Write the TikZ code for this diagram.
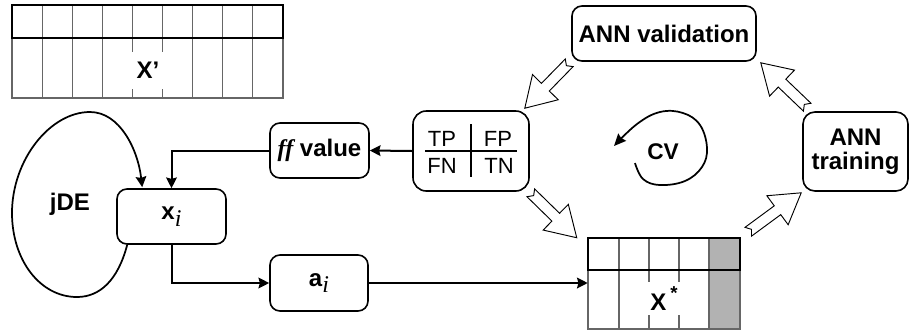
\documentclass[tikz,border=0pt]{standalone}
\usepackage{fontspec}
\setmainfont{Liberation Sans}
\newfontfamily\serif{Liberation Serif}
\usetikzlibrary{arrows.meta,calc}
\newcommand\fatarrow[2]{%
  \draw[fat] let \p1=($(#2)-(#1)$), \n1={atan2(\y1,\x1)}, \n2={veclen(\x1,\y1)-22} in
    ($(#1)+(\n1+90:4.1pt)$) -- ($(#1)+(\n1:\n2)+(\n1+90:4.1pt)$) --
    ($(#1)+(\n1:\n2)+(\n1+90:13.5pt)$) -- (#2) --
    ($(#1)+(\n1:\n2)+(\n1-90:13.5pt)$) -- ($(#1)+(\n1:\n2)+(\n1-90:4.1pt)$) --
    ($(#1)+(\n1-90:4.1pt)$) -- ($(#1)+(\n1:3pt)$) -- cycle;}
\begin{document}
\begin{tikzpicture}[x=0.75pt,y=-0.75pt,
  box/.style={draw, line width=1.2pt, rounded corners=7.5pt, inner sep=0pt,
    font=\bfseries\fontsize{18}{20}\selectfont, align=center},
  lbl/.style={font=\bfseries\fontsize{18}{20}\selectfont, inner sep=0pt},
  cmtxt/.style={font=\fontsize{16.5}{18}\selectfont, inner sep=0pt},
  conn/.style={line width=1.5pt, -{Stealth[length=8pt,width=8pt,inset=1pt]}},
  tabthick/.style={line width=2pt},
  tabthin/.style={line width=0.8pt, draw=black!60},
  fat/.style={draw, line width=0.7pt, fill=white, line join=miter},
  cvarrow/.style={line width=1.3pt, -{Stealth[length=9pt,width=8pt,inset=1pt]}}
]
\useasboundingbox (0,0) rectangle (910,333);

% X' table
\foreach \i in {1,...,8} \draw[tabthin] ({12+30.11*\i},5) -- ({12+30.11*\i},98);
\draw[tabthin] (12,38) -- (12,98) -- (283,98) -- (283,38);
\draw[tabthick] (12,5) rectangle (283,38);
\node[lbl, fill=white, minimum width=27pt, minimum height=27.5pt] (xprime) at (148,70.5) {X’};

% X* table
\fill[black!30] (709,238) rectangle (740,329);
\foreach \x in {619,649,679,709} \draw[tabthin] (\x,238) -- (\x,329);
\draw[tabthin] (588,270) -- (588,329) -- (740,329) -- (740,270);
\draw[tabthick] (588,238) rectangle (740,270);
\node[lbl, fill=white, minimum width=26pt, minimum height=24.5pt] (xstar) at (664,298.5) {X\,\raisebox{0.45em}{\fontsize{14}{14}\selectfont *}};
\node[inner sep=0pt, minimum width=114pt, minimum height=68.25pt] (Xs) at (664,283.5) {};

% boxes
\node[box, minimum width=138pt, minimum height=41.25pt] (val) at (664,33.5) {ANN validation};
\node[box, rounded corners=9pt, minimum width=78.75pt, minimum height=59.25pt] (train) at (855.5,151.5) {ANN\\[-2pt]training};
\node[box, rounded corners=10pt, minimum width=87pt, minimum height=60pt] (cm) at (471,151) {};
\node[box, minimum width=74.25pt, minimum height=41.25pt] (ff) at (319.5,150.5) {{\serif\bfseries\itshape ff} value};
\node[box, minimum width=81.75pt, minimum height=41.25pt] (xi) at (171.5,216.5) {x\raisebox{-0.28em}{\serif\mdseries\itshape i}};
\node[box, minimum width=73.5pt, minimum height=42pt] (ai) at (319,283) {a\raisebox{-0.28em}{\serif\mdseries\itshape i}};

% confusion matrix content
\node[cmtxt] (tp) at (442,139) {TP};
\node[cmtxt] (fp) at (498,139) {FP};
\node[cmtxt] (fn) at (442,166) {FN};
\node[cmtxt] (tn) at (499,166) {TN};
\draw[line width=1.2pt] ($(cm.center)+(0,-27)$) -- ($(cm.center)+(0,26)$);
\draw[line width=1.2pt] ($(cm.center)+(-46,0)$) -- ($(cm.center)+(46,0)$);

% labels
\node[lbl] (jde) at (70,204) {jDE};
\node[lbl, font=\bfseries\fontsize{17}{19}\selectfont] (cv) at (663,152) {CV};

% connectors
\draw[conn] (cm.west) -- (ff.east);
\draw[conn] (ff.west) -| (xi.north);
\draw[conn] (xi.south) |- (ai.west);
\draw[conn] (ai.east) -- (ai.east -| Xs.west);

% jDE loop
\coordinate (js) at ($(xi.south west)+(11,0)$);
\coordinate (je) at ($(xi.north west)+(26,-1)$);
\draw[conn, line width=1.3pt] (js) .. controls (118,280) and (100,297) .. (77,297)
  .. controls (40,297) and (12,260) .. (12,213)
  .. controls (12,160) and (50,112) .. (90,112)
  .. controls (120,112) and (138,150) .. (je);

% CV circular arrow
\coordinate (cvs) at ($(cv.center)+(-28,11)$);
\coordinate (cve) at ($(cv.center)+(-49,-6)$);
\draw[cvarrow] plot[smooth, tension=0.65] coordinates {(cvs) (643,179) (660,185) (685,181) (702,167) (707,148) (700,125) (683,113) (660,112) (637,124) (cve)};

% hollow arrows
\coordinate (a1s) at ($(val.south west)+(-2,1)$);
\coordinate (a1e) at ($(cm.north east)+(-5,-2)$);
\coordinate (a2s) at ($(cm.south east)+(1,1)$);
\coordinate (a2e) at ($(Xs.north west)+(-11,0)$);
\coordinate (a3s) at ($(Xs.north east)+(8,-6)$);
\coordinate (a3e) at ($(train.south west)+(-1,1)$);
\coordinate (a4s) at ($(train.north west)+(5,-4)$);
\coordinate (a4e) at ($(val.south east)+(4,1)$);
\fatarrow{a1s}{a1e}
\fatarrow{a2s}{a2e}
\fatarrow{a3s}{a3e}
\fatarrow{a4s}{a4e}
\end{tikzpicture}
\end{document}
